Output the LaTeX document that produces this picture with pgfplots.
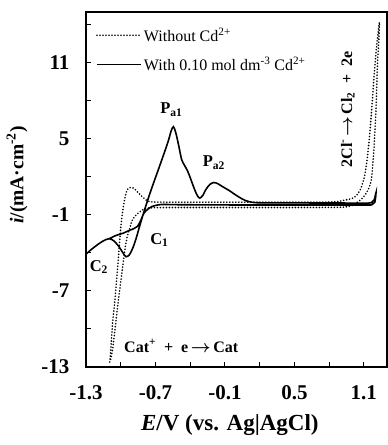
\documentclass[border=0pt]{standalone}
\usepackage{pgfplots}
\pgfplotsset{compat=1.18}
\usepackage{amsmath}
\usepackage{fontspec}
\setmainfont{Liberation Serif}
\newcommand{\rarr}{$\boldsymbol{\rightarrow}$}
\begin{document}
\begin{tikzpicture}
\begin{axis}[
  at={(0,0)}, anchor=south west,
  scale only axis, width=301pt, height=355pt,
  xmin=-1.3, xmax=1.3, ymin=-13, ymax=15,
  axis line style={line width=1.3pt},
  tick align=inside, xtick pos=bottom, ytick pos=left,
  major tick length=5.5pt, minor tick length=5.5pt,
  every tick/.style={line width=1pt, black},
  xtick={-1.3,-0.7,-0.1,0.5,1.1}, xticklabels={-1.3,-0.7,-0.1,0.5,1.1},
  minor xtick={-1.0,-0.4,0.2,0.8},
  ytick={-13,-7,-1,5,11}, yticklabels={-13,-7,-1,5,11},
  minor ytick={-10,-4,2,8,14},
  ticklabel style={font=\fontsize{21}{23}\selectfont\bfseries},
  yticklabel style={xshift=-13pt},
  xticklabel style={yshift=-15pt},
  xlabel={\textit{E}/V (vs. Ag|AgCl)},
  ylabel={\textit{i}/(mA·cm\textsuperscript{-2})},
  xlabel style={font=\fontsize{23}{26}\selectfont\bfseries, at={(axis description cs:0.478,-0.163)}, anchor=center},
  ylabel style={font=\fontsize{19.5}{22}\selectfont\bfseries, at={(axis description cs:-0.229,0.541)}, anchor=center, rotate=0},
  legend style={at={(axis description cs:0.033,0.962)}, anchor=north west, draw=none, fill=none,
    font=\fontsize{16}{17}\selectfont, row sep=10pt, inner sep=0pt},
  legend cell align=left,
  legend image code/.code={\draw[#1] (0pt,0pt) -- (44pt,0pt);},
]
\addplot[black, line width=1.8pt, dash pattern=on 0pt off 3pt, line cap=round, smooth, tension=0.4] coordinates {
(-1.095,-12.6) (-1.085,-11.5) (-1.07,-9.5) (-1.05,-7.7) (-1.03,-5.5) (-1.015,-3.8)
(-1.0,-2.0) (-0.98,-0.5) (-0.96,0.5) (-0.943,1.0) (-0.92,1.15) (-0.9,1.16)
(-0.875,1.0) (-0.85,0.75) (-0.80,0.32) (-0.77,0.1) (-0.73,0.02) (-0.6,0.0)
(-0.2,0.0) (0.3,0.0) (0.7,0.0) (0.85,0.03) (0.93,0.15) (1.0,0.3) (1.033,0.5)
(1.07,1.0) (1.105,2.0) (1.13,3.5) (1.15,5.3) (1.168,7.3) (1.185,9.5) (1.205,11.8)
(1.225,13.5) (1.235,14.2)
(1.228,12.5) (1.219,11.2) (1.212,9.3) (1.205,7.3) (1.195,5.5) (1.185,3.9)
(1.168,2.0) (1.148,1.2) (1.12,0.7) (1.09,0.35) (1.06,0.1) (1.0,-0.25) (0.9,-0.4)
(0.5,-0.42) (0.0,-0.42) (-0.5,-0.42) (-0.7,-0.43) (-0.77,-0.47) (-0.815,-0.62)
(-0.86,-0.95) (-0.9,-1.4) (-0.92,-2.0) (-0.943,-2.7) (-0.96,-3.5) (-0.975,-4.5)
(-0.99,-5.6) (-1.02,-7.7) (-1.045,-9.7) (-1.07,-11.6) (-1.09,-12.5)
};
\addlegendentry{Without Cd\textsuperscript{2+}}
\addplot[black, line width=1.6pt, smooth, tension=0.5] coordinates {
(-1.30,-4.10) (-1.25,-3.70) (-1.20,-3.35) (-1.15,-3.05) (-1.10,-2.88)
(-1.06,-3.05) (-1.02,-3.45) (-0.98,-4.0) (-0.955,-4.30) (-0.925,-4.15)
(-0.895,-3.6) (-0.865,-2.8) (-0.837,-1.9) (-0.794,-0.6) (-0.737,0.98)
(-0.666,2.8) (-0.595,4.66) (-0.565,5.6) (-0.545,5.95) (-0.525,5.5)
(-0.50,4.5) (-0.475,3.4) (-0.452,2.95) (-0.43,2.6) (-0.409,2.16)
(-0.366,1.1) (-0.34,0.55) (-0.317,0.32) (-0.29,0.55) (-0.266,0.98)
(-0.23,1.4) (-0.195,1.55) (-0.16,1.45) (-0.123,1.24) (-0.06,0.9)
(-0.009,0.58) (0.05,0.25) (0.105,0.05) (0.2,-0.05) (0.6,-0.06) (1.0,-0.07)
(1.14,-0.07) (1.17,0.0) (1.19,0.2) (1.205,0.75)
(1.195,0.0) (1.17,-0.2) (1.1,-0.22) (0.6,-0.22) (0.0,-0.22) (-0.5,-0.2)
(-0.643,-0.18) (-0.70,-0.26) (-0.73,-0.34) (-0.765,-0.55) (-0.80,-0.87)
(-0.83,-1.5) (-0.857,-1.92) (-0.89,-2.1) (-0.929,-2.24) (-0.98,-2.45)
(-1.04,-2.62) (-1.10,-2.88)
};
\addlegendentry{With 0.10 mol dm\textsuperscript{-3} Cd\textsuperscript{2+}}
\node[font=\fontsize{16.5}{18}\selectfont\bfseries] at (axis cs:-0.563,7.29) {P\textsubscript{a1}};
\node[font=\fontsize{16.5}{18}\selectfont\bfseries] at (axis cs:-0.195,3.1) {P\textsubscript{a2}};
\node[font=\fontsize{16.5}{18}\selectfont\bfseries] at (axis cs:-0.666,-2.97) {C\textsubscript{1}};
\node[font=\fontsize{16.5}{18}\selectfont\bfseries] at (axis cs:-1.189,-5.1) {C\textsubscript{2}};
\node[font=\fontsize{16}{18}\selectfont\bfseries] at (axis cs:-0.477,-11.34) {Cat\textsuperscript{+}\ \ +\ \ e\,\rarr\,Cat};
\node[font=\fontsize{16}{18}\selectfont\bfseries, rotate=90] at (axis cs:0.962,7.3) {2Cl\textsuperscript{-}\,\rarr\,Cl\textsubscript{2}\ \ +\ \ 2e};
\end{axis}
\pgfresetboundingbox
\path (-86pt,-78pt) rectangle (302pt,367pt);
\end{tikzpicture}
\end{document}
